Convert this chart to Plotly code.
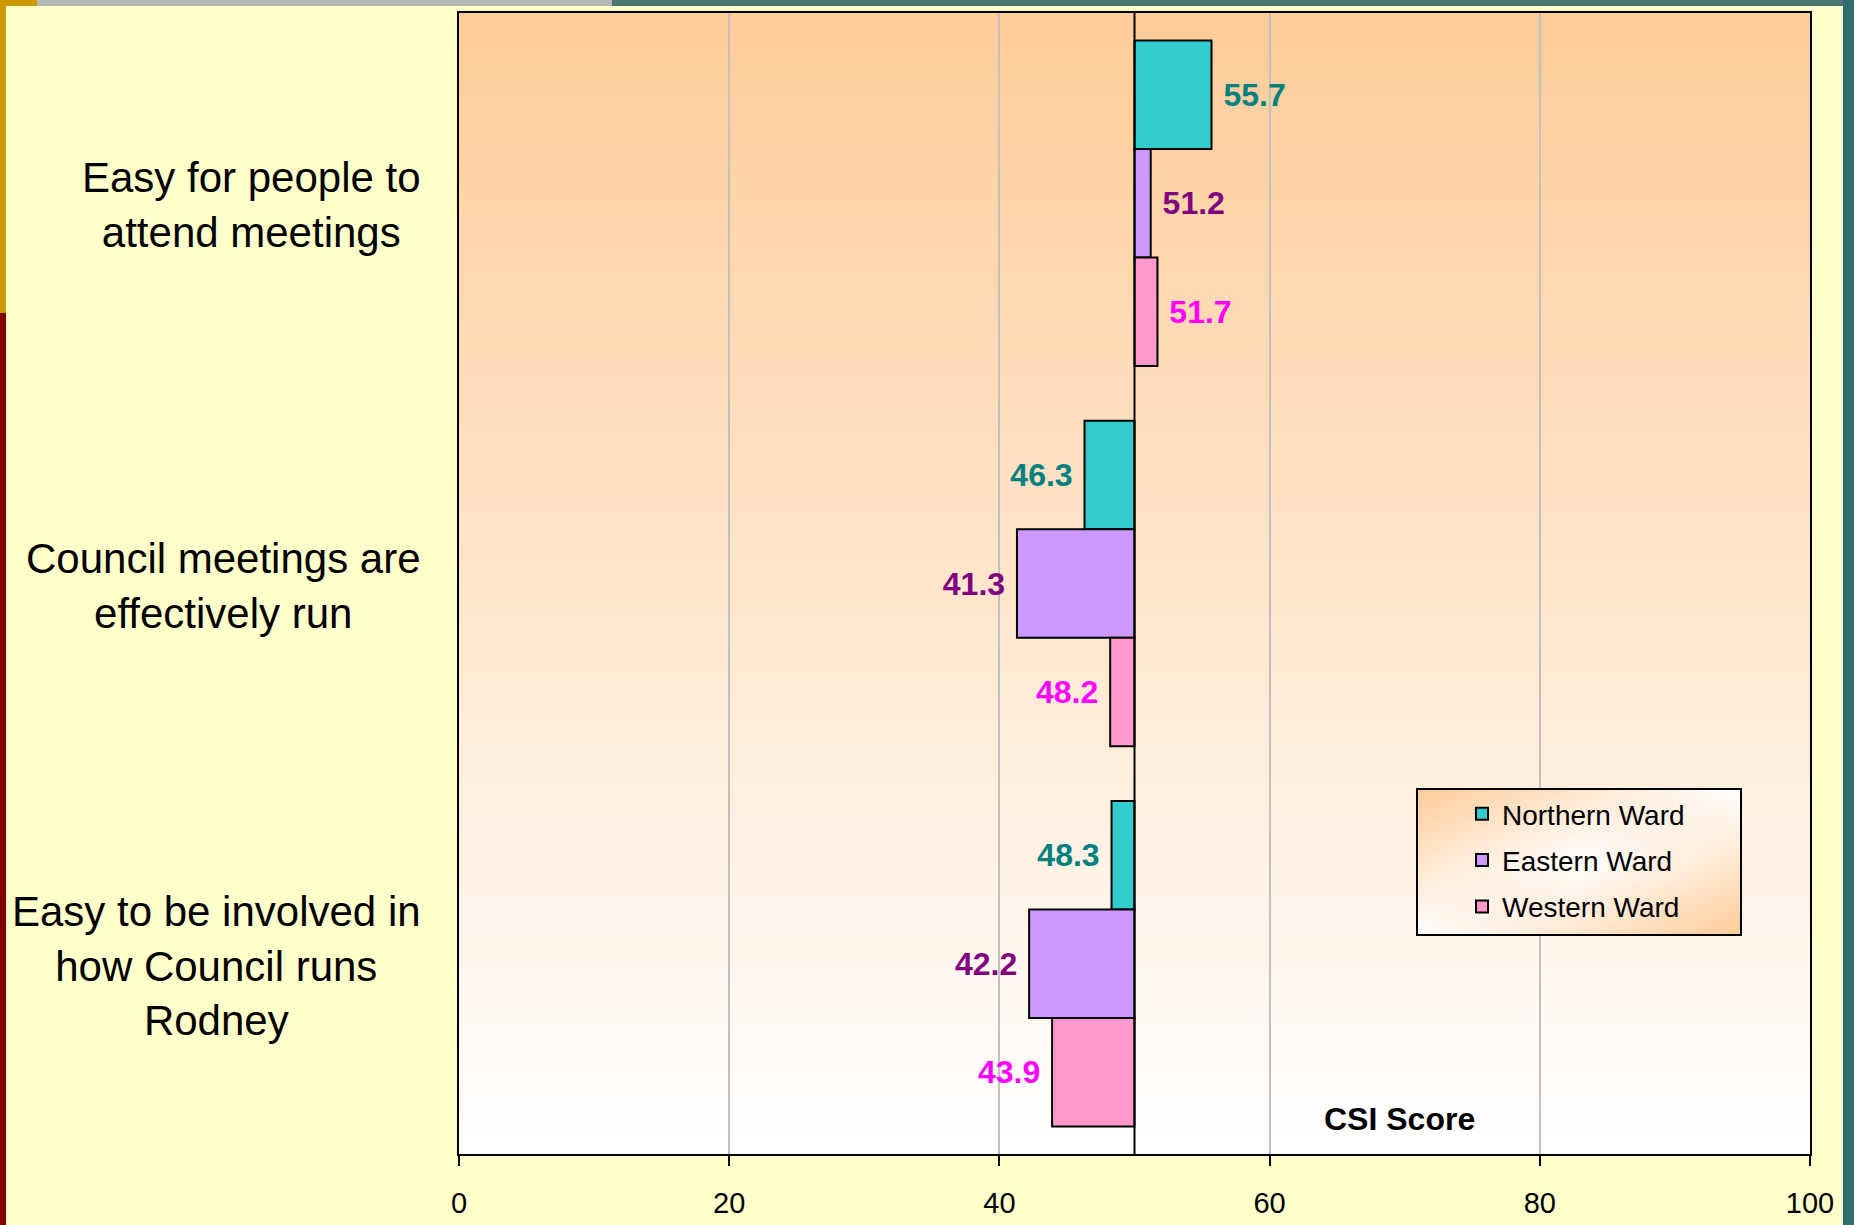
import plotly.graph_objects as go

# data (CSI scores, axis crosses at 50)
categories = [
    "Easy for people to<br>attend meetings",
    "Council meetings are<br>effectively run",
    "Easy to be involved in<br>how Council runs<br>Rodney",
]
wards = ["Northern Ward", "Eastern Ward", "Western Ward"]
northern = [55.7, 46.3, 48.3]
eastern = [51.2, 41.3, 42.2]
western = [51.7, 48.2, 43.9]
x_ticks = [0, 20, 40, 60, 80, 100]
midpoint = 50

FONT = "Liberation Sans, Arial, sans-serif"
PAPER_BG = "#FFFFCC"
BAR_CLR = ["#33CCCC", "#CC99FF", "#FF99CC"]
LBL_CLR = ["#008080", "#800080", "#FF00FF"]

# plot area in pixels (figure is 1854 x 1225)
W, H = 1854, 1225
L, R, T, B = 459, 44, 13, 71
PW, PH = W - L - R, H - T - B


def _label(v):
    nb = "\u00a0"
    return f"{nb}{v:.1f}" if v >= midpoint else f"{v:.1f}{nb}"


def _py(px_y):
    # pixel row (from top of figure) -> paper y
    return (H - B - px_y) / PH


def _px(px_x):
    return (px_x - L) / PW


fig = go.Figure()
for name, vals, bc, lc in zip(wards, [northern, eastern, western], BAR_CLR, LBL_CLR):
    fig.add_trace(
        go.Bar(
            y=categories,
            x=[v - midpoint for v in vals],
            base=[midpoint] * len(vals),
            orientation="h",
            name=name,
            legendgroup=name,
            marker=dict(color=bc, line=dict(color="black", width=2)),
            text=[_label(v) for v in vals],
            textposition="outside",
            constraintext="none",
            cliponaxis=False,
            textfont=dict(family=FONT, size=32, color=lc, weight="bold"),
            hovertemplate=f"{name}: %{{text}}<extra></extra>",
        )
    )

# legend background: diagonal peach/white gradient on its own little axes
fig.add_trace(
    go.Heatmap(
        x=[0, 0.5, 1],
        y=[0, 0.5, 1],
        z=[[0, 0.5, 1], [0.5, 0, 0.5], [1, 0.5, 0]],
        zsmooth="best",
        colorscale=[[0, "#FFFFFF"], [1, "#FFCC99"]],
        showscale=False,
        hoverinfo="skip",
        xaxis="x2",
        yaxis="y2",
    )
)

shapes = []
# vertical gradient of the plot area: peach at top fading to white
n_bands = 120
top = (0xFF, 0xCC, 0x99)
for i in range(n_bands):
    t = i / (n_bands - 1)
    c = tuple(round(a + (255 - a) * t) for a in top)
    shapes.append(dict(
        type="rect", xref="x domain", yref="y domain",
        x0=0, x1=1, y0=1 - (i + 1) / n_bands, y1=1 - i / n_bands + 0.002,
        fillcolor=f"rgb{c}", line_width=0, layer="below",
    ))
# axis crossing line at 50
shapes.append(dict(type="line", xref="x", yref="y domain", x0=midpoint, x1=midpoint,
                   y0=0, y1=1, line=dict(color="black", width=2), layer="above"))
# legend box border
shapes.append(dict(type="rect", xref="x2 domain", yref="y2 domain", x0=0, x1=1, y0=0, y1=1,
                   line=dict(color="black", width=2), layer="above"))
# slide decorations around the edge
shapes += [
    dict(type="rect", xref="paper", yref="paper", x0=_px(0), x1=_px(6),
         y0=_py(313), y1=_py(0), fillcolor="#CC9900", line_width=0),
    dict(type="rect", xref="paper", yref="paper", x0=_px(0), x1=_px(6),
         y0=_py(H), y1=_py(313), fillcolor="#800000", line_width=0),
    dict(type="rect", xref="paper", yref="paper", x0=_px(0), x1=_px(37),
         y0=_py(6), y1=_py(0), fillcolor="#CC9900", line_width=0),
    dict(type="rect", xref="paper", yref="paper", x0=_px(37), x1=_px(612),
         y0=_py(6), y1=_py(0), fillcolor="#B7B7B7", line_width=0),
    dict(type="rect", xref="paper", yref="paper", x0=_px(612), x1=_px(W),
         y0=_py(6), y1=_py(0), fillcolor="#4A7675", line_width=0),
    dict(type="rect", xref="paper", yref="paper", x0=_px(1843), x1=_px(W),
         y0=_py(H), y1=_py(0), fillcolor="#2F6E6C", line_width=0),
]

# category labels: lines centred, block right-aligned left of the plot
annotations = [
    dict(text=c, x=_px(423), xref="paper", y=c, yref="y", xanchor="right",
         yanchor="middle", yshift=-2, align="center", showarrow=False,
         font=dict(family=FONT, size=42, color="black"))
    for c in categories
]
annotations.append(dict(text="<b>CSI Score</b>", x=69.6, xref="x", y=_py(1119), yref="paper",
                        xanchor="center", yanchor="middle", showarrow=False,
                        font=dict(family=FONT, size=32, color="black")))

fig.update_layout(
    width=W,
    height=H,
    margin=dict(l=L, r=R, t=T, b=B, pad=0, autoexpand=False),
    paper_bgcolor=PAPER_BG,
    plot_bgcolor="white",
    font=dict(family=FONT, color="black"),
    barmode="group",
    bargap=0.144,
    bargroupgap=0,
    showlegend=True,
    legend=dict(
        x=_px(1462), y=_py(789), xanchor="left", yanchor="top",
        bgcolor="rgba(0,0,0,0)", borderwidth=0, tracegroupgap=7,
        font=dict(family=FONT, size=28, color="black"),
    ),
    xaxis=dict(
        range=[0, 100], tickvals=x_ticks, showgrid=True, gridcolor="#C0C0C0", gridwidth=1.5,
        zeroline=False, showline=True, linecolor="black", linewidth=2, mirror=True,
        ticks="outside", ticklen=10, tickwidth=2, tickcolor="black", automargin=False,
        tickfont=dict(family=FONT, size=29, color="black"), ticklabelstandoff=12,
    ),
    yaxis=dict(
        autorange="reversed", showticklabels=False, showgrid=False, zeroline=False,
        showline=True, linecolor="black", linewidth=2, mirror=True, ticks="",
        automargin=False,
    ),
    xaxis2=dict(domain=[_px(1417), _px(1741)], range=[0, 1], anchor="y2",
                visible=False, fixedrange=True),
    yaxis2=dict(domain=[_py(935), _py(789)], range=[0, 1], anchor="x2",
                visible=False, fixedrange=True),
    shapes=shapes,
    annotations=annotations,
)

fig.write_html("out.html", config={"displayModeBar": False},
               post_script="document.body.style.margin='0';")
